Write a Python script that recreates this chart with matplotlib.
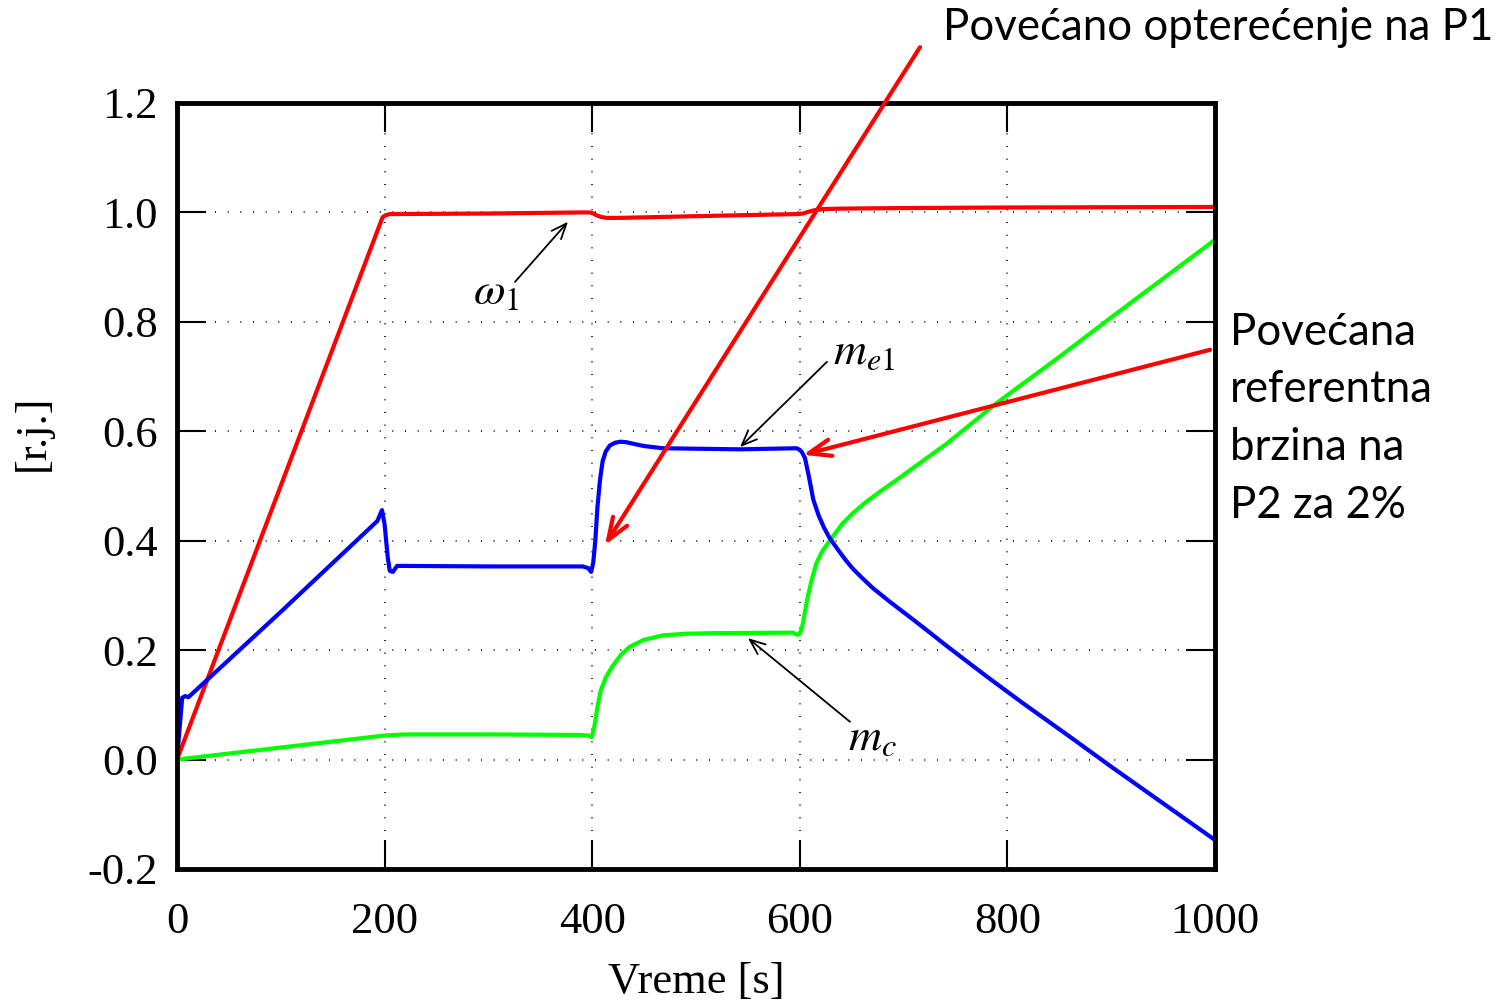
import numpy as np
import matplotlib
matplotlib.use("Agg")
import matplotlib.pyplot as plt

# omega_1 (red)
t_w = [0, 198, 201, 205, 300, 390, 397, 400, 404, 408, 414, 425, 450, 520, 598, 603, 608, 614, 622, 640, 700, 800, 1000]
w = [0, 0.991, 0.995, 0.997, 0.998, 1.000, 1.000, 0.999, 0.995, 0.992, 0.990, 0.990, 0.991, 0.994, 0.997, 0.998, 1.001,
     1.004, 1.006, 1.007, 1.008, 1.009, 1.010]

# m_e1 (blue)
t_me = [0, 5, 8, 11, 100, 193, 197.5, 200, 203, 205, 208, 212, 300, 391, 396, 399, 401, 403, 405, 407.5, 410, 413, 417,
        422, 427, 433, 440, 450, 468, 542, 597, 600, 602, 605, 609, 613, 618, 623, 629, 637, 644, 651, 660, 670, 687,
        705, 722, 742, 780, 815, 860, 900, 950, 1000]
me = [0, 0.113, 0.116, 0.114, 0.27, 0.436, 0.456, 0.43, 0.37, 0.345, 0.343, 0.354, 0.353, 0.353, 0.350, 0.343, 0.36,
      0.40, 0.46, 0.511, 0.545, 0.563, 0.574, 0.579, 0.581, 0.580, 0.577, 0.573, 0.569, 0.567, 0.569, 0.566, 0.562,
      0.551, 0.515, 0.475, 0.447, 0.425, 0.404, 0.383, 0.365, 0.349, 0.332, 0.314, 0.288, 0.262, 0.237, 0.207, 0.152,
      0.103, 0.042, -0.013, -0.080, -0.147]

# m_c (green)
t_mc = [0, 200, 220, 300, 388, 396, 399.5, 402, 405, 408, 413, 420, 428, 436, 450, 468, 490, 516, 593, 598,
        600, 602, 605, 607, 611, 616, 622, 632, 641, 651, 662, 676, 694, 718, 742, 766, 790, 850, 900, 950, 1000]
mc = [0, 0.044, 0.046, 0.046, 0.045, 0.044, 0.041, 0.06, 0.095, 0.125, 0.150, 0.172, 0.192, 0.206, 0.219, 0.227, 0.230,
      0.231, 0.232, 0.228, 0.230, 0.240, 0.270, 0.292, 0.325, 0.359, 0.382, 0.408, 0.431, 0.450, 0.468, 0.488, 0.512,
      0.545, 0.578, 0.615, 0.652, 0.736, 0.808, 0.879, 0.950]

x_ticks = [0, 200, 400, 600, 800, 1000]
y_ticks = [-0.2, 0.0, 0.2, 0.4, 0.6, 0.8, 1.0, 1.2]

plt.rcParams['mathtext.fontset'] = 'stix'
serif = 'Liberation Serif'

fig = plt.figure(figsize=(15.12, 10), dpi=100)
ax = fig.add_axes([177 / 1512, 1 - 869 / 1000, 1038 / 1512, 766 / 1000])

ax.plot(t_w, w, color='#ff0000', lw=3, solid_joinstyle='round')
ax.plot(t_mc, mc, color='#00ff00', lw=3, solid_joinstyle='round')
ax.plot(t_me, me, color='#0000ff', lw=3, solid_joinstyle='round')

ax.set_xlim(0, 1000)
ax.set_ylim(-0.2, 1.2)
ax.set_xticks(x_ticks)
ax.set_yticks(y_ticks)
ax.set_xticklabels([str(v) for v in x_ticks], family=serif, fontsize=32)
ax.set_yticklabels([f"{v:.1f}" for v in y_ticks], family=serif, fontsize=32)
ax.tick_params(direction='in', length=21, width=1.5, top=True, right=True, pad=14)
ax.tick_params(axis='x', pad=24)
for s in ax.spines.values():
    s.set_linewidth(3.5)
ax.grid(True, color='black', linestyle=(0, (0.6, 7)), lw=1.2)

ax.set_xlabel('Vreme [s]', family=serif, fontsize=32)
ax.xaxis.set_label_coords(0.5, -0.122)
ax.set_ylabel('[r.j.]', family=serif, fontsize=32)
ax.yaxis.set_label_coords(-0.12, 0.57)

# black label arrows
black = dict(arrowstyle='->,head_length=1.1,head_width=0.45', color='black', lw=1.3, shrinkA=0, shrinkB=0)
ax.annotate('', xy=(376.7, 0.983), xytext=(325.6, 0.873), arrowprops=black)
ax.text(330, 0.855, r'$\omega_1$', fontsize=33, ha='right', va='center')
ax.annotate('', xy=(542.4, 0.571), xytext=(626.2, 0.727), arrowprops=black)
ax.text(632, 0.745, r'$m_{e1}$', fontsize=33, ha='left', va='center')
ax.annotate('', xy=(550.1, 0.222), xytext=(648.4, 0.069), arrowprops=black)
ax.text(646, 0.040, r'$m_c$', fontsize=33, ha='left', va='center')

# red callout arrows
red = dict(arrowstyle='->,head_length=1.6,head_width=0.6', color='#ff0000', lw=3, shrinkA=0, shrinkB=0)
ax.annotate('', xy=(412.3, 0.392), xytext=(715.8, 1.302), arrowprops=red, annotation_clip=False)
ax.annotate('', xy=(603.1, 0.557), xytext=(995.2, 0.749), arrowprops=red, annotation_clip=False)

fig.text(943 / 1512, 1 - 28 / 1000, 'Povećano opterećenje na P1', family='Lato', fontsize=31.5,
         ha='left', va='center')
fig.text(1230 / 1512, 1 - 312 / 1000, 'Povećana\nreferentna\nbrzina na\nP2 za 2%', family='Lato',
         fontsize=31.5, ha='left', va='top', linespacing=1.5)

fig.savefig('out.png', dpi=100)
